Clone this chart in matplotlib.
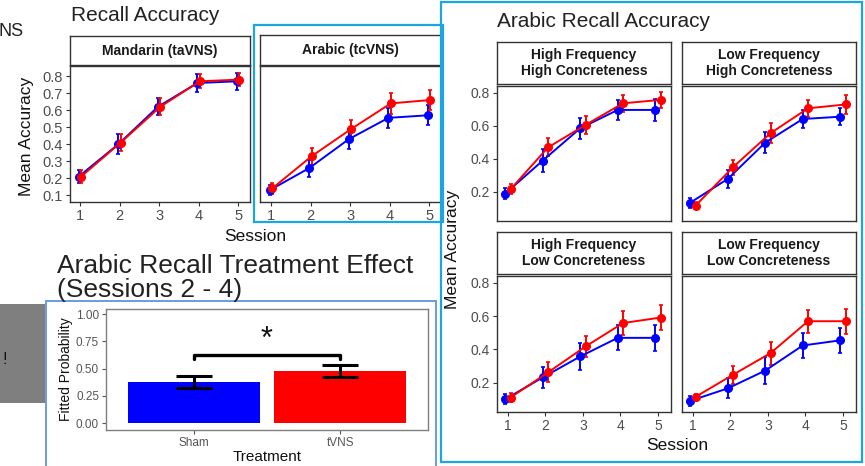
import matplotlib
matplotlib.use("Agg")
import matplotlib.pyplot as plt
from matplotlib.patches import Rectangle
import numpy as np

plt.rcParams['font.family'] = ['Liberation Sans', 'DejaVu Sans']

# ---------------- data ----------------
sessions = [1, 2, 3, 4, 5]

mandarin_sham = [0.21, 0.40, 0.62, 0.76, 0.77]
mandarin_sham_err = [0.04, 0.06, 0.05, 0.05, 0.05]
mandarin_tvns = [0.21, 0.41, 0.62, 0.77, 0.78]
mandarin_tvns_err = [0.04, 0.05, 0.05, 0.04, 0.04]

arabic_sham = [0.13, 0.26, 0.43, 0.555, 0.57]
arabic_sham_err = [0.03, 0.05, 0.06, 0.06, 0.06]
arabic_tvns = [0.14, 0.33, 0.49, 0.64, 0.66]
arabic_tvns_err = [0.03, 0.05, 0.05, 0.06, 0.06]

hfhc_sham = [0.19, 0.39, 0.586, 0.697, 0.697]
hfhc_sham_err = [0.035, 0.07, 0.065, 0.06, 0.065]
hfhc_tvns = [0.216, 0.47, 0.606, 0.737, 0.758]
hfhc_tvns_err = [0.03, 0.055, 0.055, 0.05, 0.05]

lfhc_sham = [0.135, 0.279, 0.499, 0.642, 0.656]
lfhc_sham_err = [0.03, 0.055, 0.065, 0.055, 0.05]
lfhc_tvns = [0.117, 0.35, 0.556, 0.707, 0.73]
lfhc_tvns_err = [0.02, 0.045, 0.06, 0.05, 0.055]

hflc_sham = [0.101, 0.232, 0.358, 0.47, 0.47]
hflc_sham_err = [0.03, 0.065, 0.08, 0.075, 0.08]
hflc_tvns = [0.111, 0.262, 0.418, 0.559, 0.592]
hflc_tvns_err = [0.025, 0.06, 0.065, 0.07, 0.073]

lflc_sham = [0.091, 0.166, 0.273, 0.424, 0.455]
lflc_sham_err = [0.03, 0.06, 0.08, 0.075, 0.075]
lflc_tvns = [0.115, 0.248, 0.378, 0.57, 0.57]
lflc_tvns_err = [0.02, 0.055, 0.07, 0.07, 0.075]

treatments = ["Sham", "tVNS"]
fitted_prob = [0.376, 0.477]
fitted_low = [0.318, 0.418]
fitted_high = [0.428, 0.530]

# ---------------- figure ----------------
W, H = 865, 466
fig = plt.figure(figsize=(W / 100, H / 100), dpi=100)

BORDER = '#333333'
TICKLAB = '#4d4d4d'
FRAME_BLUE = '#1ca6df'
FRAME_BLUE2 = '#6a9be6'


def ax_px(l, t, r, b, **kw):
    return fig.add_axes([l / W, 1 - b / H, (r - l) / W, (b - t) / H], **kw)


def strip(l, t, r, b, text):
    a = ax_px(l, t, r, b)
    a.set_xticks([]); a.set_yticks([])
    a.set_facecolor('white')
    for s in a.spines.values():
        s.set_color(BORDER); s.set_linewidth(1.0)
    a.text(0.5, 0.5, text, ha='center', va='center', fontsize=10,
           fontweight='bold', color='#1a1a1a', linespacing=1.15,
           transform=a.transAxes)
    return a


def line_panel(ax, sham, sham_err, tvns, tvns_err, dodge, xlim, ylim,
               yticks, showx=True, showy=True, labsize=10):
    x = np.array(sessions, dtype=float)
    ax.errorbar(x - dodge, sham, yerr=sham_err, color='blue', marker='o',
                ms=5.5, lw=1.4, elinewidth=1.4, capsize=1.5, capthick=1.2)
    ax.errorbar(x + dodge, tvns, yerr=tvns_err, color='red', marker='o',
                ms=5.5, lw=1.4, elinewidth=1.4, capsize=1.5, capthick=1.2)
    ax.set_xlim(*xlim)
    ax.set_ylim(*ylim)
    ax.set_xticks(sessions)
    ax.set_yticks(yticks)
    ax.set_yticklabels([f"{v:.1f}" for v in yticks])
    for s in ax.spines.values():
        s.set_color(BORDER); s.set_linewidth(1.0)
    ax.tick_params(direction='out', length=3, width=0.8, color=BORDER,
                   labelcolor=TICKLAB, labelsize=labsize, pad=2)
    if not showx:
        ax.tick_params(axis='x', length=0, labelbottom=False)
    if not showy:
        ax.tick_params(axis='y', length=0, labelleft=False)


# ---- top-left: Recall Accuracy ----
fig.text(-1 / W, 1 - 31 / H, "NS", fontsize=13, ha='left', va='center',
         color='#222222')
fig.text(71 / W, 1 - 21 / H, "Recall Accuracy", fontsize=15,
         ha='left', va='baseline', color='#222222')

strip(70, 36, 250, 65, "Mandarin (taVNS)")
a1 = ax_px(70, 66, 250, 202)
line_panel(a1, mandarin_sham, mandarin_sham_err, mandarin_tvns,
           mandarin_tvns_err, 0.03, (0.747, 5.30), (0.06, 0.86),
           [0.1, 0.2, 0.3, 0.4, 0.5, 0.6, 0.7, 0.8], labsize=10.5)

strip(260, 35, 441, 65, "Arabic (tcVNS)")
a2 = ax_px(260, 66, 441, 202)
line_panel(a2, arabic_sham, arabic_sham_err, arabic_tvns, arabic_tvns_err,
           0.03, (0.72, 5.30), (0.06, 0.86),
           [0.1, 0.2, 0.3, 0.4, 0.5, 0.6, 0.7, 0.8], showy=False,
           labsize=10.5)

fig.text(27 / W, 1 - 136 / H, "Mean Accuracy", rotation=90, fontsize=12.5,
         ha='center', va='center', color='#111111')
fig.text(255 / W, 1 - 237 / H, "Session", fontsize=12.5,
         ha='center', va='center', color='#111111')

# ---- bottom-left: treatment effect ----
fig.text(57 / W, 1 - 273 / H, "Arabic Recall Treatment Effect",
         fontsize=19, ha='left', va='baseline', color='#222222')
fig.text(57 / W, 1 - 297 / H, "(Sessions 2 - 4)",
         fontsize=19, ha='left', va='baseline', color='#222222')

fig.add_artist(Rectangle((0, 1 - 403 / H), 45 / W, 99 / H,
                         transform=fig.transFigure, facecolor='#7f7f7f',
                         edgecolor='none'))
fig.text(5 / W, 1 - 360 / H, "!", fontsize=12, ha='center', va='center',
         color='#111111')

ab = ax_px(106, 309, 428, 430)
xb = np.arange(1, len(treatments) + 1)
ab.bar(xb, fitted_prob, width=0.9, color=['#0000ff', '#ff0000'],
       edgecolor='none')
yerr = [np.array(fitted_prob) - np.array(fitted_low),
        np.array(fitted_high) - np.array(fitted_prob)]
ab.errorbar(xb, fitted_prob, yerr=yerr, fmt='none', ecolor='black',
            elinewidth=2.2, capsize=13, capthick=2.2)
ab.plot([1, 1, 2, 2], [0.585, 0.62, 0.62, 0.585], color='black', lw=2.4,
        solid_capstyle='round', solid_joinstyle='round')
ab.text(1.5, 0.69, "*", fontsize=22, ha='center', va='baseline',
        color='#111111')
ab.set_xlim(0.4, 2.6)
ab.set_ylim(-0.064, 1.046)
ab.set_xticks(xb)
ab.set_xticklabels(treatments)
ab.set_yticks([0, 0.25, 0.5, 0.75, 1.0])
ab.set_yticklabels(["0.00", "0.25", "0.50", "0.75", "1.00"])
for s in ab.spines.values():
    s.set_color('#7f7f7f'); s.set_linewidth(1.0)
ab.tick_params(direction='out', length=3, width=0.8, color='#555555',
               labelcolor='#555555', labelsize=8.5, pad=2)
ab.set_ylabel("Fitted Probability", fontsize=10, color='#111111', labelpad=2)
ab.set_xlabel("Treatment", fontsize=11, color='#111111', labelpad=1)

# ---- right: Arabic Recall Accuracy by condition ----
fig.text(497 / W, 1 - 27 / H, "Arabic Recall Accuracy", fontsize=15,
         ha='left', va='baseline', color='#222222')

rxlim = (0.71, 5.35)
rylim = (0.024, 0.842)
ryt = [0.2, 0.4, 0.6, 0.8]

strip(497, 42, 671, 84, "High Frequency\nHigh Concreteness")
p1 = ax_px(497, 86, 671, 221)
line_panel(p1, hfhc_sham, hfhc_sham_err, hfhc_tvns, hfhc_tvns_err, 0.07,
           rxlim, rylim, ryt, showx=False, labsize=10)

strip(682, 42, 856, 84, "Low Frequency\nHigh Concreteness")
p2 = ax_px(682, 86, 856, 221)
line_panel(p2, lfhc_sham, lfhc_sham_err, lfhc_tvns, lfhc_tvns_err, 0.07,
           rxlim, rylim, ryt, showx=False, showy=False, labsize=10)

strip(497, 232, 671, 274, "High Frequency\nLow Concreteness")
p3 = ax_px(497, 276, 671, 412)
line_panel(p3, hflc_sham, hflc_sham_err, hflc_tvns, hflc_tvns_err, 0.07,
           rxlim, rylim, ryt, labsize=10)

strip(682, 232, 856, 274, "Low Frequency\nLow Concreteness")
p4 = ax_px(682, 276, 856, 412)
line_panel(p4, lflc_sham, lflc_sham_err, lflc_tvns, lflc_tvns_err, 0.07,
           rxlim, rylim, ryt, showy=False, labsize=10)

fig.text(453 / W, 1 - 249 / H, "Mean Accuracy", rotation=90, fontsize=12.5,
         ha='center', va='center', color='#111111')
fig.text(677 / W, 1 - 446 / H, "Session", fontsize=12.5,
         ha='center', va='center', color='#111111')

# ---- annotation frames ----
def frame(l, t, r, b, color, lw):
    fig.add_artist(Rectangle((l / W, 1 - b / H), (r - l) / W, (b - t) / H,
                             transform=fig.transFigure, facecolor='none',
                             edgecolor=color, linewidth=lw))

frame(254, 25, 443, 222, FRAME_BLUE, 1.6)
frame(441, 2, 862, 462, FRAME_BLUE, 1.6)
frame(46, 301, 436, 475, FRAME_BLUE2, 1.4)

fig.savefig("out.png", dpi=100)
